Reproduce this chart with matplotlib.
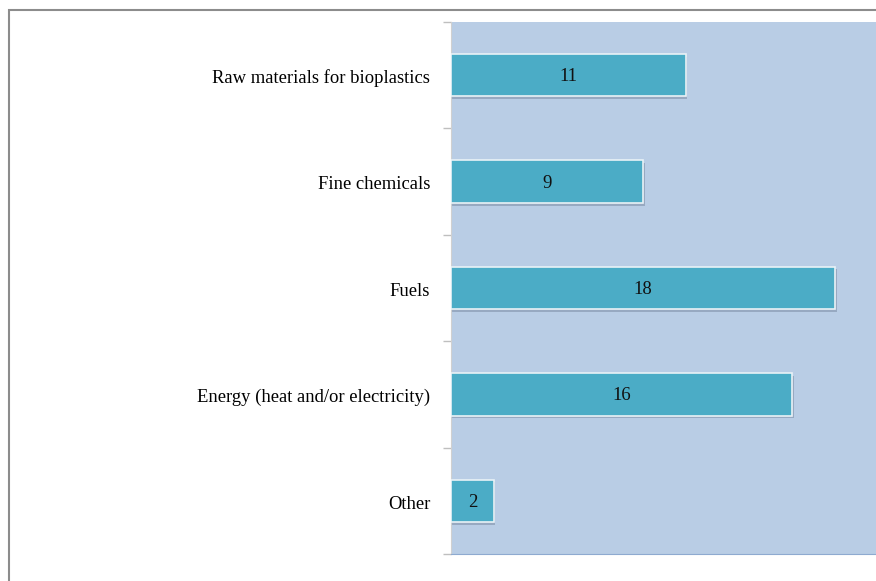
import numpy as np
import matplotlib.pyplot as plt
from matplotlib.patches import Rectangle

# Categories (top to bottom) and counts
categories = ['Raw materials for bioplastics', 'Fine chemicals', 'Fuels',
              'Energy (heat and/or electricity)', 'Other']
counts = [11, 9, 18, 16, 2]

plt.rcParams['font.family'] = ['Liberation Serif', 'DejaVu Serif']

fig = plt.figure(figsize=(8.76, 5.81), dpi=100)
W, H = 876, 581

# thin gray frame around the whole chart
fig.patches.append(Rectangle((9 / W, -0.1), 1.2, 1 - 9.5 / H + 0.1,
                             transform=fig.transFigure, fill=False,
                             edgecolor='#8c8c8c', linewidth=1.5))

ax = fig.add_axes([451 / W, 1 - 554 / H, 1 - 451 / W + 0.002, (554 - 22) / H])
ax.set_facecolor('#b9cde5')

y = np.arange(len(categories))
# soft shadow under each bar
ax.barh(y + 0.025, counts, height=0.4, left=0.07, color='#6f7f96', alpha=0.45,
        zorder=2, linewidth=0)
bars = ax.barh(y, counts, height=0.4, color='#4bacc6', edgecolor='#e9f2f7',
               linewidth=1.2, zorder=3)

for b, v in zip(bars, counts):
    ax.text(b.get_width() / 2, b.get_y() + b.get_height() / 2 + 0.015, str(v),
            ha='center', va='center', fontsize=13.5, color='#111111', zorder=4)

ax.set_xlim(0, 20)
ax.set_ylim(len(categories) - 0.5, -0.5)
ax.set_xticks([])
ax.set_yticks(y + 0.012)
ax.set_yticklabels(categories, fontsize=13.4)
ax.tick_params(axis='y', length=0, pad=15)
# tick marks between categories
ax.set_yticks(np.arange(len(categories) + 1) - 0.5, minor=True)
ax.tick_params(axis='y', which='minor', length=6, color='#bfbfbf', width=1)

for side in ['top', 'right']:
    ax.spines[side].set_visible(False)
ax.spines['left'].set_color('#d0d0d0')
ax.spines['bottom'].set_color('#8eaad0')

plt.savefig('out.png', dpi=100)
